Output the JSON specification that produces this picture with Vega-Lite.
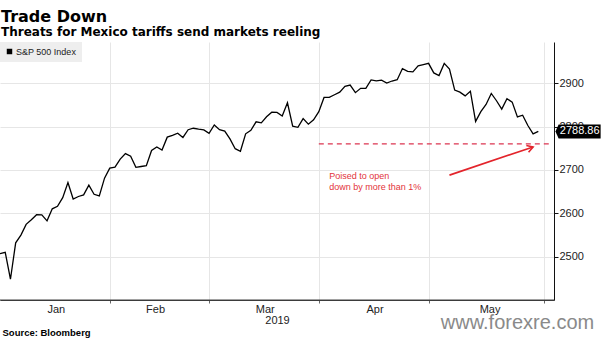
{
  "$schema": "https://vega.github.io/schema/vega-lite/v6.json",
  "width": 554,
  "height": 258,
  "autosize": {"type": "none"},
  "padding": {"left": 0, "top": 42, "right": 48, "bottom": 38},
  "background": "white",
  "title": {
    "text": "Trade Down",
    "subtitle": "Threats for Mexico tariffs send markets reeling",
    "anchor": "start",
    "frame": "group",
    "offset": 4,
    "dx": 1,
    "font": "DejaVu Sans",
    "fontSize": 16,
    "fontWeight": "bold",
    "color": "#000000",
    "subtitleFont": "DejaVu Sans",
    "subtitleFontSize": 12,
    "subtitleFontWeight": "bold",
    "subtitleColor": "#000000",
    "subtitlePadding": 2
  },
  "datasets": {
    "sp": [
      {"date": "2018-12-31", "close": 2506.85},
      {"date": "2019-01-02", "close": 2510.03},
      {"date": "2019-01-03", "close": 2447.89},
      {"date": "2019-01-04", "close": 2531.94},
      {"date": "2019-01-07", "close": 2549.69},
      {"date": "2019-01-08", "close": 2574.41},
      {"date": "2019-01-09", "close": 2584.96},
      {"date": "2019-01-10", "close": 2596.64},
      {"date": "2019-01-11", "close": 2596.26},
      {"date": "2019-01-14", "close": 2582.61},
      {"date": "2019-01-15", "close": 2610.30},
      {"date": "2019-01-16", "close": 2616.10},
      {"date": "2019-01-17", "close": 2635.96},
      {"date": "2019-01-18", "close": 2670.71},
      {"date": "2019-01-22", "close": 2632.90},
      {"date": "2019-01-23", "close": 2638.70},
      {"date": "2019-01-24", "close": 2642.33},
      {"date": "2019-01-25", "close": 2664.76},
      {"date": "2019-01-28", "close": 2643.85},
      {"date": "2019-01-29", "close": 2640.00},
      {"date": "2019-01-30", "close": 2681.05},
      {"date": "2019-01-31", "close": 2704.10},
      {"date": "2019-02-01", "close": 2706.53},
      {"date": "2019-02-04", "close": 2724.87},
      {"date": "2019-02-05", "close": 2737.70},
      {"date": "2019-02-06", "close": 2731.61},
      {"date": "2019-02-07", "close": 2706.05},
      {"date": "2019-02-08", "close": 2707.88},
      {"date": "2019-02-11", "close": 2709.80},
      {"date": "2019-02-12", "close": 2744.73},
      {"date": "2019-02-13", "close": 2753.03},
      {"date": "2019-02-14", "close": 2745.73},
      {"date": "2019-02-15", "close": 2775.60},
      {"date": "2019-02-19", "close": 2779.76},
      {"date": "2019-02-20", "close": 2784.70},
      {"date": "2019-02-21", "close": 2774.88},
      {"date": "2019-02-22", "close": 2792.67},
      {"date": "2019-02-25", "close": 2796.11},
      {"date": "2019-02-26", "close": 2793.90},
      {"date": "2019-02-27", "close": 2792.38},
      {"date": "2019-02-28", "close": 2784.49},
      {"date": "2019-03-01", "close": 2803.69},
      {"date": "2019-03-04", "close": 2792.81},
      {"date": "2019-03-05", "close": 2789.65},
      {"date": "2019-03-06", "close": 2771.45},
      {"date": "2019-03-07", "close": 2748.93},
      {"date": "2019-03-08", "close": 2743.07},
      {"date": "2019-03-11", "close": 2783.30},
      {"date": "2019-03-12", "close": 2791.52},
      {"date": "2019-03-13", "close": 2810.92},
      {"date": "2019-03-14", "close": 2808.48},
      {"date": "2019-03-15", "close": 2822.48},
      {"date": "2019-03-18", "close": 2832.94},
      {"date": "2019-03-19", "close": 2832.57},
      {"date": "2019-03-20", "close": 2824.23},
      {"date": "2019-03-21", "close": 2854.88},
      {"date": "2019-03-22", "close": 2800.71},
      {"date": "2019-03-25", "close": 2798.36},
      {"date": "2019-03-26", "close": 2818.46},
      {"date": "2019-03-27", "close": 2805.37},
      {"date": "2019-03-28", "close": 2815.44},
      {"date": "2019-03-29", "close": 2834.40},
      {"date": "2019-04-01", "close": 2867.19},
      {"date": "2019-04-02", "close": 2867.24},
      {"date": "2019-04-03", "close": 2873.40},
      {"date": "2019-04-04", "close": 2879.39},
      {"date": "2019-04-05", "close": 2892.74},
      {"date": "2019-04-08", "close": 2895.77},
      {"date": "2019-04-09", "close": 2878.20},
      {"date": "2019-04-10", "close": 2888.21},
      {"date": "2019-04-11", "close": 2888.32},
      {"date": "2019-04-12", "close": 2907.41},
      {"date": "2019-04-15", "close": 2905.58},
      {"date": "2019-04-16", "close": 2907.06},
      {"date": "2019-04-17", "close": 2900.45},
      {"date": "2019-04-18", "close": 2905.03},
      {"date": "2019-04-22", "close": 2907.97},
      {"date": "2019-04-23", "close": 2933.68},
      {"date": "2019-04-24", "close": 2927.25},
      {"date": "2019-04-25", "close": 2926.17},
      {"date": "2019-04-26", "close": 2939.88},
      {"date": "2019-04-29", "close": 2943.03},
      {"date": "2019-04-30", "close": 2945.83},
      {"date": "2019-05-01", "close": 2923.73},
      {"date": "2019-05-02", "close": 2917.52},
      {"date": "2019-05-03", "close": 2945.64},
      {"date": "2019-05-06", "close": 2932.47},
      {"date": "2019-05-07", "close": 2884.05},
      {"date": "2019-05-08", "close": 2879.42},
      {"date": "2019-05-09", "close": 2870.72},
      {"date": "2019-05-10", "close": 2881.40},
      {"date": "2019-05-13", "close": 2811.87},
      {"date": "2019-05-14", "close": 2834.41},
      {"date": "2019-05-15", "close": 2850.96},
      {"date": "2019-05-16", "close": 2876.32},
      {"date": "2019-05-17", "close": 2859.53},
      {"date": "2019-05-20", "close": 2840.23},
      {"date": "2019-05-21", "close": 2864.36},
      {"date": "2019-05-22", "close": 2856.27},
      {"date": "2019-05-23", "close": 2822.24},
      {"date": "2019-05-24", "close": 2826.06},
      {"date": "2019-05-28", "close": 2802.39},
      {"date": "2019-05-29", "close": 2783.02},
      {"date": "2019-05-30", "close": 2788.86}
    ],
    "arrow": [
      {"date": "2019-05-06", "level": 2688},
      {"date": "2019-05-29", "level": 2753}
    ]
  },
  "encoding": {
    "x": {
      "field": "date", "type": "ordinal", "title": "2019",
      "scale": {
        "type": "point", "padding": 0,
        "domain": [
          "2018-12-31","2019-01-02","2019-01-03","2019-01-04","2019-01-07","2019-01-08","2019-01-09","2019-01-10","2019-01-11","2019-01-14","2019-01-15","2019-01-16","2019-01-17","2019-01-18","2019-01-22","2019-01-23","2019-01-24","2019-01-25","2019-01-28","2019-01-29","2019-01-30","2019-01-31",
          "2019-02-01","2019-02-04","2019-02-05","2019-02-06","2019-02-07","2019-02-08","2019-02-11","2019-02-12","2019-02-13","2019-02-14","2019-02-15","2019-02-19","2019-02-20","2019-02-21","2019-02-22","2019-02-25","2019-02-26","2019-02-27","2019-02-28",
          "2019-03-01","2019-03-04","2019-03-05","2019-03-06","2019-03-07","2019-03-08","2019-03-11","2019-03-12","2019-03-13","2019-03-14","2019-03-15","2019-03-18","2019-03-19","2019-03-20","2019-03-21","2019-03-22","2019-03-25","2019-03-26","2019-03-27","2019-03-28","2019-03-29",
          "2019-04-01","2019-04-02","2019-04-03","2019-04-04","2019-04-05","2019-04-08","2019-04-09","2019-04-10","2019-04-11","2019-04-12","2019-04-15","2019-04-16","2019-04-17","2019-04-18","2019-04-22","2019-04-23","2019-04-24","2019-04-25","2019-04-26","2019-04-29","2019-04-30",
          "2019-05-01","2019-05-02","2019-05-03","2019-05-06","2019-05-07","2019-05-08","2019-05-09","2019-05-10","2019-05-13","2019-05-14","2019-05-15","2019-05-16","2019-05-17","2019-05-20","2019-05-21","2019-05-22","2019-05-23","2019-05-24","2019-05-28","2019-05-29","2019-05-30","2019-05-31",
          "2019-06-03","2019-06-04"
        ]
      },
      "axis": {
        "values": ["2019-01-31", "2019-02-28", "2019-03-29", "2019-04-30", "2019-05-31"],
        "labelExpr": "['Jan','Feb','Mar','Apr','May'][toNumber(slice(datum.value,5,7))-1]",
        "labelAngle": 0,
        "labelAlign": "center",
        "labelBaseline": "top",
        "labelOffset": -54,
        "labelPadding": 0,
        "ticks": true,
        "tickSize": 3,
        "tickColor": "#666666",
        "grid": true,
        "domain": true,
        "domainColor": "#333333",
        "titlePadding": 0
      }
    }
  },
  "resolve": {"axis": {"y": "independent"}},
  "layer": [
    {
      "data": {"name": "sp"},
      "mark": {"type": "line", "strokeWidth": 1.3},
      "encoding": {
        "y": {
          "field": "close", "type": "quantitative",
          "scale": {"domain": [2400, 2995], "zero": false, "nice": false},
          "axis": {
            "orient": "right",
            "values": [2500, 2600, 2700, 2800, 2900],
            "format": "d",
            "grid": true,
            "tickSize": 4,
            "labelPadding": 1,
            "labelBaseline": "middle",
            "domainColor": "#111111",
            "tickColor": "#111111",
            "title": "www.forexre.com",
            "titleAngle": 0,
            "titleX": -37,
            "titleY": 286.5,
            "titleAlign": "center",
            "titleBaseline": "alphabetic",
            "titleFont": "Liberation Sans",
            "titleFontSize": 20,
            "titleFontWeight": "normal",
            "titleColor": "#8a8a8a"
          }
        },
        "color": {
          "datum": "S&P 500 Index", "type": "nominal",
          "scale": {"range": ["#000000"]},
          "legend": {"title": null, "symbolType": "square", "symbolFillColor": "#000000", "symbolStrokeWidth": 0}
        }
      }
    },
    {
      "data": {"values": [{"date": "2019-03-29", "end": "2019-06-03", "level": 2760}]},
      "mark": {"type": "rule", "color": "#dc3550", "strokeDash": [5, 4], "strokeWidth": 1.3},
      "encoding": {
        "x2": {"field": "end"},
        "y": {
          "field": "level", "type": "quantitative",
          "scale": {"domain": [2400, 2995], "zero": false, "nice": false},
          "axis": {
            "orient": "left",
            "title": "Source: Bloomberg",
            "labels": false, "ticks": false, "domain": false, "grid": false,
            "titleAngle": 0, "titleX": 2, "titleY": 293,
            "titleAlign": "left", "titleBaseline": "alphabetic",
            "titleFont": "Liberation Sans", "titleFontSize": 9.5,
            "titleFontWeight": "bold", "titleColor": "#000000"
          }
        }
      }
    },
    {
      "data": {"values": [{"date": "2018-12-31", "end": "2019-06-04", "level": 2400}]},
      "mark": {"type": "rule", "color": "#444444", "strokeWidth": 1.2},
      "encoding": {
        "x2": {"field": "end"},
        "y": {"field": "level", "type": "quantitative", "axis": null,
              "scale": {"domain": [2400, 2995], "zero": false, "nice": false}}
      }
    },
    {
      "data": {"name": "arrow"},
      "mark": {"type": "line", "color": "#e3242b", "strokeWidth": 1.6},
      "encoding": {
        "y": {"field": "level", "type": "quantitative", "axis": null,
              "scale": {"domain": [2400, 2995], "zero": false, "nice": false}}
      }
    },
    {
      "data": {"name": "arrow"},
      "transform": [{"filter": "datum.date == '2019-05-29'"}],
      "mark": {"type": "point", "shape": "M-1.7,-1L0,0L-1.7,1", "filled": false, "color": "#e3242b", "strokeWidth": 1.6, "size": 49, "angle": -18.6, "opacity": 1},
      "encoding": {
        "y": {"field": "level", "type": "quantitative", "axis": null,
              "scale": {"domain": [2400, 2995], "zero": false, "nice": false}}
      }
    },
    {
      "data": {"values": [{"date": "2019-04-02", "level": 2695, "note": "Poised to open\ndown by more than 1%"}]},
      "mark": {"type": "text", "align": "left", "baseline": "top", "lineBreak": "\n", "lineHeight": 10.5, "font": "Liberation Sans", "fontSize": 9, "color": "#e3343a"},
      "encoding": {
        "y": {"field": "level", "type": "quantitative", "axis": null,
              "scale": {"domain": [2400, 2995], "zero": false, "nice": false}},
        "text": {"field": "note"}
      }
    },
    {
      "data": {"name": "sp"},
      "transform": [{"filter": "datum.date == '2019-05-30'"}],
      "mark": {"type": "point", "shape": "M2.45,0L2.9,-1L8.9,-1L8.9,1L2.9,1Z", "filled": true, "color": "#000000", "size": 196, "opacity": 1, "strokeWidth": 0},
      "encoding": {
        "y": {"field": "close", "type": "quantitative", "axis": null,
              "scale": {"domain": [2400, 2995], "zero": false, "nice": false}}
      }
    },
    {
      "data": {"name": "sp"},
      "transform": [{"filter": "datum.date == '2019-05-30'"}],
      "mark": {"type": "text", "color": "#ffffff", "align": "left", "baseline": "middle", "dx": 21.5, "font": "Liberation Sans", "fontSize": 11},
      "encoding": {
        "y": {"field": "close", "type": "quantitative", "axis": null,
              "scale": {"domain": [2400, 2995], "zero": false, "nice": false}},
        "text": {"field": "close", "type": "quantitative", "format": ".2f"}
      }
    }
  ],
  "config": {
    "view": {"stroke": null},
    "font": "Liberation Sans",
    "axis": {
      "labelFont": "Liberation Sans",
      "labelFontSize": 11,
      "labelColor": "#222222",
      "titleFont": "Liberation Sans",
      "titleFontSize": 11,
      "titleFontWeight": "normal",
      "titleColor": "#222222",
      "gridColor": "#e6e6e6",
      "gridWidth": 1,
      "domainColor": "#444444",
      "tickColor": "#444444"
    },
    "legend": {
      "orient": "top-left",
      "offset": 0,
      "fillColor": "#eeeeee",
      "padding": 5,
      "labelFont": "Liberation Sans",
      "labelFontSize": 9,
      "labelColor": "#222222",
      "symbolSize": 30,
      "labelOffset": 2
    }
  }
}
